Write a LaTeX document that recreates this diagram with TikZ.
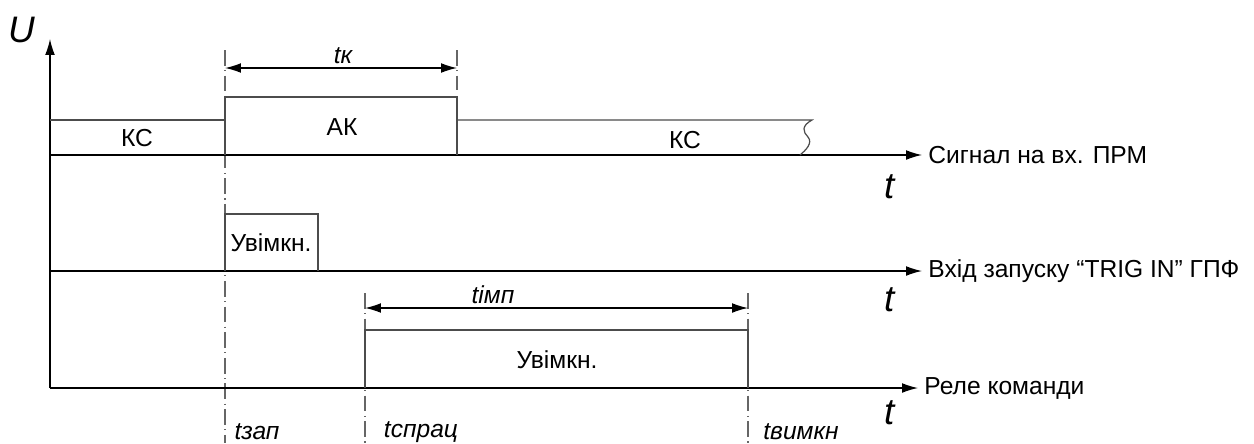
\documentclass[tikz,border=0pt]{standalone}
\usepackage{fontspec}
\setmainfont{Liberation Sans}
\usetikzlibrary{arrows.meta}
\begin{document}
\begin{tikzpicture}[
    x=0.02cm, y=-0.02cm,
    line width=0.7pt,
    every node/.style={font=\fontsize{14}{16}\selectfont},
    axis/.style={draw,-{Latex[length=9pt,width=5.5pt]}},
    dim/.style={draw,{Latex[length=9pt,width=5.5pt]}-{Latex[length=9pt,width=5.5pt]}},
    pulse/.style={draw,black!70},
    markline/.style={draw,black!60,dash pattern=on 9pt off 2.5pt on 0.6pt off 2.5pt},
    tlabel/.style={font=\fontsize{14}{16}\selectfont\itshape},
    bigt/.style={font=\fontsize{21}{23}\selectfont\itshape}
  ]
  \useasboundingbox (0,0) rectangle (1254,443);

  % vertical axis
  \coordinate (o) at (50,388);
  \coordinate (top) at (50,39);
  \draw[axis] (o) -- (top);
  \node[bigt] (U) at (22,30) {U};

  % time marks
  \draw[markline] (225,50) -- (225,443);
  \draw[markline] (457,50) -- (457,90);
  \draw[markline] (365,293) -- (365,443);
  \draw[markline] (748,293) -- (748,443);

  % row 1
  \coordinate (o1) at (50,155);
  \node[anchor=west] (sig) at (922,155) {Сигнал на вх. ПРМ};
  \draw[axis] (o1) -- (sig.west);
  \draw[pulse] (50,120) -- (225,120);
  \draw[pulse] (225,155) -- (225,97) -- (457,97) -- (457,155);
  \draw[pulse] (457,120) -- (812,120)
    .. controls (801,126) and (803,132) .. (808,137)
    .. controls (813,143) and (806,150) .. (800,155);
  \node (ks1) at (137,138) {КС};
  \node (ak) at (342,127) {АК};
  \node (ks2) at (685,140) {КС};
  \coordinate (k1) at (225,68);
  \coordinate (k2) at (457,68);
  \draw[dim] (k1) -- (k2);
  \node[tlabel] (tk) at (343,56) {tк};
  \node[bigt] (t1) at (890,187) {t};

  % row 2
  \coordinate (o2) at (50,271);
  \node[anchor=west] (trig) at (922,271) {Вхід запуску “TRIG IN” ГПФ};
  \draw[axis] (o2) -- (trig.west);
  \draw[pulse] (225,271) -- (225,214) -- (318,214) -- (318,271);
  \node (on1) at (271,243) {Увімкн.};
  \node[bigt] (t2) at (890,300) {t};

  % row 3
  \coordinate (o3) at (50,388);
  \node[anchor=west] (rel) at (918,388) {Реле команди};
  \draw[axis] (o3) -- (rel.west);
  \draw[pulse] (365,388) -- (365,330) -- (748,330) -- (748,388);
  \node (on2) at (557,360) {Увімкн.};
  \coordinate (i1) at (365,308);
  \coordinate (i2) at (748,308);
  \draw[dim] (i1) -- (i2);
  \node[tlabel] (timp) at (493,295) {tімп};
  \node[bigt] (t3) at (890,413) {t};

  % moments
  \node[tlabel] (tzap) at (257,432) {tзап};
  \node[tlabel] (tspr) at (421,432) {tспрац};
  \node[tlabel] (tvym) at (801,432) {tвимкн};
\end{tikzpicture}
\end{document}
